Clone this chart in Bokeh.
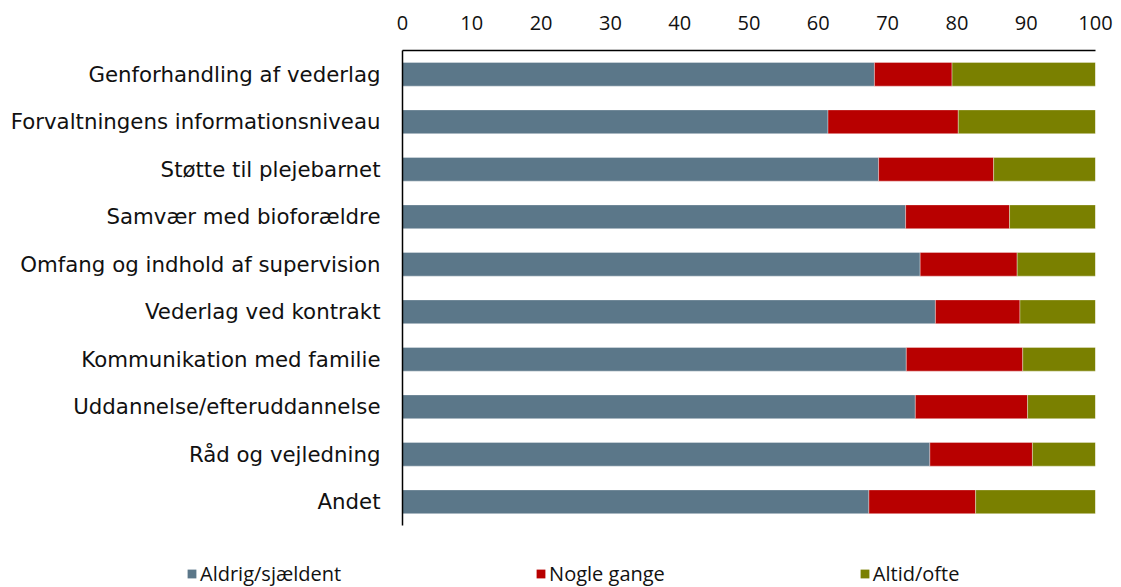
from bokeh.plotting import figure
from bokeh.layouts import column, row
from bokeh.models import (ColumnDataSource, FactorRange, Range1d, FixedTicker,
                          Legend, LegendItem)
from bokeh.embed import file_html
from bokeh.resources import INLINE

categories = [
    "Genforhandling af vederlag",
    "Forvaltningens informationsniveau",
    "Støtte til plejebarnet",
    "Samvær med bioforældre",
    "Omfang og indhold af supervision",
    "Vederlag ved kontrakt",
    "Kommunikation med familie",
    "Uddannelse/efteruddannelse",
    "Råd og vejledning",
    "Andet",
]
aldrig = [68.1, 61.4, 68.7, 72.6, 74.7, 76.9, 72.7, 74.0, 76.1, 67.3]
nogle = [11.2, 18.8, 16.6, 15.0, 14.0, 12.2, 16.8, 16.2, 14.8, 15.4]
altid = [20.7, 19.8, 14.7, 12.4, 11.3, 10.9, 10.5, 9.8, 9.1, 17.3]
series_names = ["Aldrig/sjældent", "Nogle gange", "Altid/ofte"]
series_keys = ["aldrig", "nogle", "altid"]
colors = ["#5B7789", "#B80000", "#7A8000"]
x_ticks = [0, 10, 20, 30, 40, 50, 60, 70, 80, 90, 100]

source = ColumnDataSource(dict(cat=categories, aldrig=aldrig, nogle=nogle, altid=altid))

p = figure(width=1121, height=540, output_backend="svg", toolbar_location=None,
           y_range=FactorRange(factors=list(reversed(categories))),
           x_range=Range1d(0, 100), x_axis_location="above",
           min_border_left=402, min_border_right=26, min_border_top=50,
           min_border_bottom=15)

p.hbar_stack(series_keys, y="cat", height=0.5, color=colors,
             source=source, line_color="white", line_alpha=0.35, line_width=1)

p.outline_line_color = None
p.xgrid.grid_line_color = None
p.ygrid.grid_line_color = None

xa = p.xaxis[0]
xa.ticker = FixedTicker(ticks=x_ticks)
xa.major_tick_line_color = None
xa.minor_tick_line_color = None
xa.major_tick_out = 0
xa.major_tick_in = 0
xa.axis_line_color = "black"
xa.axis_line_width = 1.5
xa.major_label_standoff = 21
xa.major_label_text_font = "Open Sans"
xa.major_label_text_font_size = "20px"
xa.major_label_text_color = "#111111"

ya = p.yaxis[0]
ya.major_tick_line_color = None
ya.minor_tick_line_color = None
ya.major_tick_out = 0
ya.major_tick_in = 0
ya.axis_line_color = "black"
ya.axis_line_width = 1.5
ya.major_label_standoff = 22
ya.major_label_text_font = "DejaVu Sans"
ya.major_label_text_font_size = "21.3px"
ya.major_label_text_color = "#111111"

# Legend strip below the chart (its renderers are hidden, only the legend shows)
p2 = figure(width=1121, height=47, output_backend="svg", toolbar_location=None,
            y_range=FactorRange(factors=list(reversed(categories))),
            x_range=Range1d(0, 100), x_axis_type=None, y_axis_type=None,
            min_border=0, min_border_left=0, min_border_right=0,
            min_border_top=0, min_border_bottom=0)
p2.outline_line_color = None
p2.xgrid.grid_line_color = None
p2.ygrid.grid_line_color = None
legend_renderers = p2.hbar_stack(series_keys, y="cat", height=0.5, color=colors,
                                 source=source, line_color=None)
for r in legend_renderers:
    r.visible = False

legend = Legend(items=[LegendItem(label=n, renderers=[r])
                       for n, r in zip(series_names, legend_renderers)],
                location=(186, 0), orientation="horizontal",
                padding=0, margin=0, spacing=194,
                glyph_width=11, glyph_height=11, label_standoff=3,
                border_line_color=None, background_fill_alpha=0,
                inactive_fill_alpha=0, click_policy="none",
                label_text_font="Open Sans", label_text_font_size="20px",
                label_text_color="#111111")
p2.add_layout(legend, "center")

open("out.html", "w").write(file_html(column(p, row(p2), spacing=0), INLINE))
